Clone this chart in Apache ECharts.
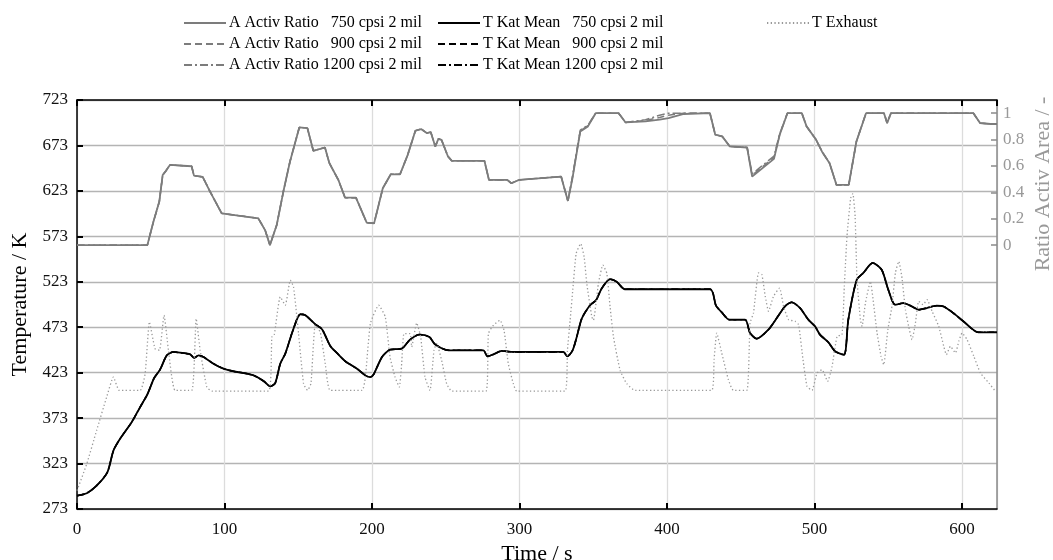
<!DOCTYPE html>
<html><head><meta charset="utf-8">
<script src="https://cdn.jsdelivr.net/npm/echarts@6/dist/echarts.min.js"></script>
<style>html,body{margin:0;padding:0;background:#fff}#c{width:1053px;height:560px}</style>
</head><body><div id="c"></div>
<script>
// ---------- data ----------
const aTime = [0,47.7,51.8,55.8,58.1,60.3,63,77.7,79.3,85.2,90.2,98.1,122.9,127.5,130.8,135.4,139.9,144.4,150.7,156.2,160.2,168.1,171.1,177.2,181.7,189.1,196.4,201.4,207.3,212.7,219,224.2,229.4,233.3,237.2,239.8,242.9,245,247.1,251.5,254.1,276.2,279.3,291.8,294.4,299.6,328.2,332.8,335.9,341.2,346.4,351.6,367.2,371.9,385.4,395,401,411.4,412.7,429.1,432.7,437.4,442.6,454.3,457.7,472.5,476.4,481.6,491.4,494.6,501.1,505,510.2,514.9,523.2,528.4,534.9,547.1,549.2,551.8,607.7,612.2,619.4,623.7];
const a750  = [0,0,0.177,0.33,0.532,0.563,0.608,0.598,0.527,0.517,0.406,0.241,0.203,0.114,0,0.152,0.406,0.634,0.892,0.887,0.715,0.74,0.621,0.494,0.36,0.36,0.17,0.165,0.431,0.537,0.537,0.684,0.867,0.88,0.849,0.857,0.748,0.806,0.798,0.672,0.639,0.639,0.494,0.494,0.469,0.494,0.52,0.335,0.507,0.862,0.9,1,1,0.93,0.938,0.952,0.963,0.994,1,1,0.837,0.824,0.748,0.74,0.52,0.654,0.837,1,1,0.9,0.798,0.71,0.621,0.456,0.456,0.786,1,1,0.925,1,1,0.925,0.918,0.918];
const a900  = [0,0,0.177,0.33,0.532,0.563,0.608,0.598,0.527,0.517,0.406,0.241,0.203,0.114,0,0.152,0.406,0.634,0.892,0.887,0.715,0.74,0.621,0.494,0.36,0.36,0.17,0.165,0.431,0.537,0.537,0.684,0.867,0.88,0.849,0.857,0.748,0.806,0.798,0.672,0.639,0.639,0.494,0.494,0.469,0.494,0.52,0.335,0.515,0.868,0.905,1,1,0.93,0.945,0.968,0.985,1,1,1,0.837,0.824,0.748,0.74,0.53,0.665,0.84,1,1,0.9,0.798,0.71,0.621,0.456,0.456,0.786,1,1,0.925,1,1,0.925,0.918,0.918];
const a1200 = [0,0,0.177,0.33,0.532,0.563,0.608,0.598,0.527,0.517,0.406,0.241,0.203,0.114,0,0.152,0.406,0.634,0.892,0.887,0.715,0.74,0.621,0.494,0.36,0.36,0.17,0.165,0.431,0.537,0.537,0.684,0.867,0.88,0.849,0.857,0.748,0.806,0.798,0.672,0.639,0.639,0.494,0.494,0.469,0.494,0.52,0.335,0.52,0.872,0.91,1,1,0.93,0.95,0.985,1,1,1,1,0.837,0.824,0.748,0.74,0.54,0.675,0.845,1,1,0.9,0.798,0.71,0.621,0.456,0.456,0.786,1,1,0.925,1,1,0.925,0.918,0.918];

const kTime = [0,6.6,13.3,20.6,24.7,29.2,37.1,42.8,47.7,52.3,56.3,60.9,65.4,69.9,76.7,79.4,82.4,85.7,92.5,99.3,106.1,112.9,119.7,126.5,131,134.4,137.8,141.2,146.8,151.4,154.8,161.5,166.1,171.7,176.2,181.9,189.8,195.5,198.9,201.1,206.8,212.2,220.1,225.8,232.1,238.9,242.7,251.8,275.5,278.2,282.3,287.9,295.8,329.7,332.4,336,338.8,342.2,347.8,351.9,355.7,361.4,365.9,371.5,429.2,433.2,437.1,442.3,452.9,456.3,460.8,468.7,474.4,480,484.5,490.2,495.8,500.3,503.7,509.4,513.9,520,522.9,528.6,533.1,539.4,545.5,550,554.6,560.2,565.9,570.4,576.1,582.8,587.3,594.1,600.9,611.1,623.7];
const k750  = [287.7,290.3,298.7,313.4,337.3,350.2,368.6,385.1,399.1,417.1,426.3,442.1,445.8,445,443.2,439.2,442.1,440.3,432.9,427.4,424.5,422.6,420,413.8,407.9,411.6,432.9,443.9,471.5,487.3,486.2,476.3,470.8,452.4,444.7,435.5,427.4,420,418.2,421.1,440.3,448.3,449.4,459.4,464.9,462.3,454.2,447.6,447.6,441,443.2,446.9,445.8,445.8,441,447.6,462.3,482.5,497.2,502.8,515.6,525.9,523,514.8,514.8,496.7,489.4,481.3,481.3,466.6,460.4,470.3,483.1,496,500.4,494.1,481.3,474,464.8,456.4,446.5,442.8,481.3,525.3,532.7,543.7,536.3,514.3,497.8,499.6,496,492.3,494.1,496.7,496,488.6,479.5,467.4,467.4];
const k900  = [287.7,290.3,298.7,313.4,337.3,350.2,368.6,385.1,399.1,417.1,426.3,442.1,445.8,445,443.2,439.2,442.1,440.3,432.9,427.4,424.5,422.6,420,413.8,407.9,411.6,432.9,443.9,471.5,487.3,486.2,476.3,470.8,452.4,444.7,435.5,427.4,420,418.2,421.1,440.3,448.3,449.4,459.4,464.9,462.3,454.2,447.6,447.6,441,443.2,446.9,445.8,445.8,441,447.6,462.3,482.5,497.2,502.8,515.6,525.9,523,514.8,514.8,496.7,489.4,481.3,481.3,466.6,460.4,470.3,483.1,496,500.4,494.1,481.3,474,464.8,456.4,446.5,442.8,481.3,525.3,532.7,543.7,536.3,514.3,497.8,499.6,496,492.3,494.1,496.7,496,488.6,479.5,467.4,467.4];
const k1200 = [287.7,290.3,298.7,313.4,337.3,350.2,368.6,385.1,399.1,417.1,426.3,442.1,445.8,445,443.2,439.2,442.1,440.3,432.9,427.4,424.5,422.6,420,413.8,407.9,411.6,432.9,443.9,471.5,487.3,486.2,476.3,470.8,452.4,444.7,435.5,427.4,420,418.2,421.1,440.3,448.3,449.4,459.4,464.9,462.3,454.2,447.6,447.6,441,443.2,446.9,445.8,445.8,441,447.6,462.3,482.5,497.2,502.8,515.6,525.9,523,514.8,514.8,496.7,489.4,481.3,481.3,466.6,460.4,470.3,483.1,496,500.4,494.1,481.3,474,464.8,456.4,446.5,442.8,481.3,525.3,532.7,543.7,536.3,514.3,497.8,499.6,496,492.3,494.1,496.7,496,488.6,479.5,467.4,467.4];

const eTime = [0,6.6,13.3,20.1,24.7,28.7,42.8,46.2,49.1,52.9,55.9,59,62,66.5,77.8,80.8,83.5,88,91.4,129.9,132.1,133.7,137.8,141.2,144.6,146.8,150.2,153.6,156.3,158.6,161.5,164.9,168.3,171.7,193.2,195.5,198.9,204.5,209,212.2,215.6,218.5,220.1,221.7,225.8,226.9,230.3,233,235.9,239.3,242,243.8,247.2,250.6,254,277.3,278.9,282.3,286.8,289.5,292.4,295.8,298.1,330.9,332.5,334.3,336.1,338.4,341.5,343.8,345.6,349,350.1,353.5,356.5,359.2,361.4,363.7,368.2,372.7,378.4,430.3,431.9,433.7,437.1,441.6,445,454.1,456.3,458.6,462,464.3,466.6,468.8,472.2,476.3,479,482.4,486.9,489.2,492.2,494.9,498.3,501.7,505.1,508.9,511.9,515.3,518.6,520.2,522,524.5,526,527.5,528.8,531.1,532.2,534.5,537.9,539.7,542.4,545.1,546.9,549.7,552.5,554.8,557.1,559.3,561.6,563.8,566.1,568.4,570.6,573.6,576.3,579.7,584.2,587.6,589.4,592.1,595.5,597.8,600,603.4,608,612.5,618.2,622.7];
const eVal  = [293.2,322.6,359.4,396.1,418.2,403.5,403.5,421.9,478.9,449.4,447.6,486.2,447.6,403.5,403.5,482.5,447.6,407.2,402.8,402.8,462.3,464.2,506.4,497.2,524.8,517.5,466,410.9,403.5,410.9,475.2,467.8,432.9,403.5,403.5,418.2,477,497.2,484.4,440.3,418.2,407.2,432.9,466,466,451.3,477.8,462.3,418.2,403.5,447.6,455,436.6,410.9,402.8,402.8,466,475.2,480.7,469.7,432.9,410.9,402.8,402.8,447.6,480.7,513.8,554.2,565,550.5,521.1,484.4,480.7,521.1,541.4,532.2,495.4,462.3,425.6,410.9,403.5,403.5,437.2,466.6,444.6,415.3,403.5,403.5,477.6,488.6,532.7,530.8,507,490.5,507,516.1,496,481.3,479.5,475.8,437.3,407.9,403.5,422.6,426.3,413.4,429.9,463,464.8,518,573,615,620,595,525.3,481.3,474,499.6,523.5,503.3,466.6,441,431.8,470.3,496,532.7,545.5,527.2,492.3,474,459.3,477.6,501.5,497.8,503.3,490.5,474,452,442.8,452,444.6,457.5,466.6,459.3,441,422.6,411.6,402.4];

// ---------- chart ----------
const FONT = 'Liberation Serif';
function zip(t, v) { return t.map((x, i) => [x, v[i]]); }

const nA = ['A Activ Ratio \u2007750 cpsi 2 mil', 'A Activ Ratio \u2007900 cpsi 2 mil', 'A Activ Ratio 1200 cpsi 2 mil'];
const nK = ['T Kat Mean \u2007750 cpsi 2 mil', 'T Kat Mean \u2007900 cpsi 2 mil', 'T Kat Mean 1200 cpsi 2 mil'];
const nE = 'T Exhaust';
const dashes = ['solid', [7, 4], [8, 3, 2, 3]];
const GRAY = '#7c7c7c';

function lineSeries(name, data, color, type, yIdx, width, smooth) {
  return {
    name, type: 'line', data, xAxisIndex: 0, yAxisIndex: yIdx, showSymbol: false, symbol: 'none',
    smooth: smooth, animation: false,
    lineStyle: { color, width, type }, itemStyle: { color }
  };
}

const series = [
  lineSeries(nA[0], zip(aTime, a750), GRAY, dashes[0], 1, 1.8, false),
  lineSeries(nA[1], zip(aTime, a900), GRAY, dashes[1], 1, 1.5, false),
  lineSeries(nA[2], zip(aTime, a1200), GRAY, dashes[2], 1, 1.5, false),
  lineSeries(nK[0], zip(kTime, k750), '#000', dashes[0], 0, 1.8, 0.25),
  lineSeries(nK[1], zip(kTime, k900), '#000', dashes[1], 0, 1.5, 0.25),
  lineSeries(nK[2], zip(kTime, k1200), '#000', dashes[2], 0, 1.5, 0.25),
  lineSeries(nE, zip(eTime, eVal), '#999', [1.3, 2.4], 0, 1.3, 0.15)
];

const legendBase = {
  orient: 'vertical', itemWidth: 42, itemHeight: 14, itemGap: 5, padding: 0,
  itemStyle: { opacity: 0 },
  textStyle: { fontFamily: FONT, fontSize: 16, color: '#000', lineHeight: 16, padding: [0, 0, 0, -2] },
  selectedMode: false
};

const noZero = { onZero: false };

const option = {
  backgroundColor: '#fff',
  animation: false,
  textStyle: { fontFamily: FONT },
  legend: [
    Object.assign({}, legendBase, { left: 183, top: 15, data: nA }),
    Object.assign({}, legendBase, { left: 437, top: 15, data: nK }),
    Object.assign({}, legendBase, { left: 766, top: 15, data: [nE] })
  ],
  grid: [
    { left: 77, right: 56, top: 100, bottom: 51, containLabel: false, outerBoundsMode: 'none' },
    { left: 77, right: 56, top: 113.2, height: 131.9, containLabel: false, outerBoundsMode: 'none' }
  ],
  xAxis: [
    {
      type: 'value', gridIndex: 0, min: 0, max: 623.7, interval: 100, position: 'bottom',
      name: 'Time / s', nameLocation: 'middle', nameGap: 23,
      nameTextStyle: { fontFamily: FONT, fontSize: 22, color: '#000' },
      axisLine: { show: true, onZero: false, lineStyle: { color: '#000', width: 1.5 } },
      axisTick: { show: true, inside: true, length: 6, lineStyle: { color: '#000', width: 2 } },
      axisLabel: { fontFamily: FONT, fontSize: 17, color: '#111', margin: 12, showMaxLabel: false },
      splitLine: { show: true, lineStyle: { color: '#dcdcdc', width: 1.3 } }
    },
    {
      type: 'value', gridIndex: 0, min: 0, max: 623.7, interval: 100, position: 'top',
      axisLine: { show: true, onZero: false, lineStyle: { color: '#000', width: 1.5 } },
      axisTick: { show: true, inside: true, length: 6, lineStyle: { color: '#000', width: 2 } },
      axisLabel: { show: false }, splitLine: { show: false }
    },
    {
      type: 'value', gridIndex: 1, min: 0, max: 1, show: false, axisLine: noZero
    }
  ],
  yAxis: [
    {
      type: 'value', gridIndex: 0, min: 273, max: 723, interval: 50, position: 'left',
      name: 'Temperature / K', nameLocation: 'middle', nameGap: 41,
      nameTextStyle: { fontFamily: FONT, fontSize: 22, color: '#000' },
      axisLine: { show: true, onZero: false, lineStyle: { color: '#000', width: 1.5 } },
      axisTick: { show: true, inside: true, length: 6, lineStyle: { color: '#000', width: 2 } },
      axisLabel: { fontFamily: FONT, fontSize: 17, color: '#111', margin: 9 },
      splitLine: { show: true, lineStyle: { color: '#b4b4b4', width: 1.3 } }
    },
    {
      type: 'value', gridIndex: 0, min: -2, max: 1.1, position: 'right',
      axisLine: { show: true, onZero: false, lineStyle: { color: '#8a8a8a', width: 1.5 } },
      axisTick: { show: false }, axisLabel: { show: false }, splitLine: { show: false }
    },
    {
      type: 'value', gridIndex: 1, min: 0, max: 1, interval: 0.2, position: 'right',
      axisLine: { show: false, onZero: false },
      axisTick: { show: true, inside: true, length: 6, lineStyle: { color: '#8a8a8a', width: 1.5 } },
      axisLabel: { fontFamily: FONT, fontSize: 17, color: '#999', margin: 6 },
      splitLine: { show: false }
    }
  ],
  graphic: [{
    type: 'text', x: 1043, y: 184, rotation: Math.PI / 2,
    style: { text: 'Ratio Activ Area / -', fontFamily: FONT, fontSize: 22, fill: '#999', align: 'center', verticalAlign: 'middle' }
  }],
  series
};

const chart = echarts.init(document.getElementById('c'), null, { renderer: 'canvas' });
chart.setOption(option);
</script>
</body></html>
